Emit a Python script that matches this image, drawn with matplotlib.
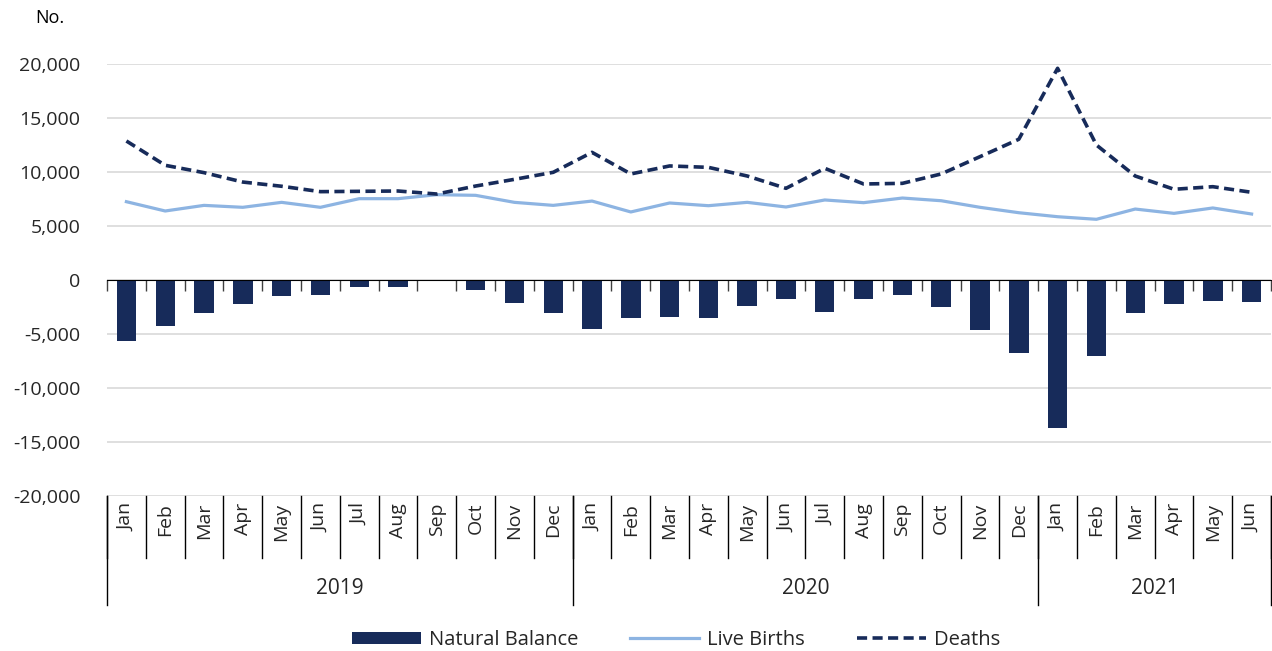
import matplotlib
matplotlib.use("Agg")
import matplotlib.pyplot as plt
import numpy as np

plt.rcParams['font.family'] = ['Open Sans', 'DejaVu Sans']

months = ["Jan", "Feb", "Mar", "Apr", "May", "Jun", "Jul", "Aug", "Sep", "Oct", "Nov", "Dec",
          "Jan", "Feb", "Mar", "Apr", "May", "Jun", "Jul", "Aug", "Sep", "Oct", "Nov", "Dec",
          "Jan", "Feb", "Mar", "Apr", "May", "Jun"]
years = ["2019", "2020", "2021"]
year_counts = [12, 12, 6]

natural_balance = [-5620, -4220, -3020, -2220, -1450, -1360, -630, -650, -60, -930, -2100, -3060,
                   -4540, -3520, -3460, -3490, -2380, -1790, -2990, -1760, -1360, -2530, -4660, -6730,
                   -13730, -7050, -3020, -2220, -1940, -2040]
live_births = [7250, 6390, 6910, 6730, 7190, 6730, 7530, 7530, 7900, 7840, 7190, 6910,
               7310, 6300, 7130, 6880, 7190, 6760, 7410, 7160, 7590, 7340, 6730, 6230,
               5860, 5620, 6570, 6170, 6670, 6110]
deaths = [12870, 10620, 9940, 9070, 8680, 8180, 8210, 8240, 7960, 8700, 9320, 9970,
          11820, 9820, 10560, 10430, 9630, 8490, 10340, 8890, 8950, 9820, 11420, 13030,
          19600, 12500, 9630, 8400, 8640, 8120]

navy = "#172B5A"
light = "#8DB4E2"
txt = "#262626"

fig = plt.figure(figsize=(12.72, 6.51), dpi=100)
ax = fig.add_axes([107 / 1272, 1 - 496 / 651, 1 - 108 / 1272, 432 / 651])

x = np.arange(len(months))
bars = ax.bar(x, natural_balance, width=0.5, color=navy, label="Natural Balance", zorder=3)
l1, = ax.plot(x, live_births, color=light, lw=2.3, label="Live Births", zorder=4)
l2, = ax.plot(x, deaths, color=navy, lw=2.6, dashes=(2.8, 1.5), label="Deaths", zorder=5)

ax.set_xlim(-0.5, len(months) - 0.5)
ax.set_ylim(-20000, 20000)
ax.set_yticks(np.arange(-20000, 20001, 5000))
ax.yaxis.set_major_formatter(matplotlib.ticker.FuncFormatter(lambda v, p: f"{int(v):,}"))
ax.tick_params(axis='y', length=0, labelsize=14, labelcolor=txt, pad=19)
ax.grid(axis='y', color="#D9D9D9", lw=1.2, zorder=0)

for s in ['top', 'right', 'left']:
    ax.spines[s].set_visible(False)
ax.spines['bottom'].set_position(('data', 0))
ax.spines['bottom'].set_color('black')
ax.spines['bottom'].set_zorder(6)
ax.set_xticks([])
ax.set_xticks(np.arange(-0.5, len(months)), minor=True)
ax.tick_params(axis='x', which='minor', length=8, width=1, color='#404040', direction='out')
ax.tick_params(axis='x', which='major', length=0, labelbottom=False)

# multi-level category labels below the plot
tr = ax.get_xaxis_transform()
for i, m in enumerate(months):
    ax.text(i, -0.016, m, rotation=90, ha='center', va='top', fontsize=14, color=txt, transform=tr)
for b in np.arange(-0.5, len(months)):
    ax.plot([b, b], [0, -0.1435], color='black', lw=1, transform=tr, clip_on=False)
start = 0
for y, n in zip(years, year_counts):
    ax.plot([start - 0.5, start - 0.5], [0, -0.2523], color='black', lw=1, transform=tr, clip_on=False)
    ax.text(start + (n - 1) / 2, -0.213, y, ha='center', va='center', fontsize=15, color=txt, transform=tr)
    start += n
ax.plot([start - 0.5, start - 0.5], [0, -0.2523], color='black', lw=1, transform=tr, clip_on=False)

fig.text(35 / 1272, 1 - 18 / 651, "No.", fontsize=13, color='black', va='center', ha='left')

fig.legend([bars, l1, l2], ["Natural Balance", "Live Births", "Deaths"],
           loc='center', bbox_to_anchor=(676 / 1272, 1 - 640 / 651), ncol=3, frameon=False,
           fontsize=14.5, handlelength=3.4, handleheight=0.6, columnspacing=2.6, handletextpad=0.4,
           labelcolor=txt)

fig.savefig("out.png", dpi=100)
